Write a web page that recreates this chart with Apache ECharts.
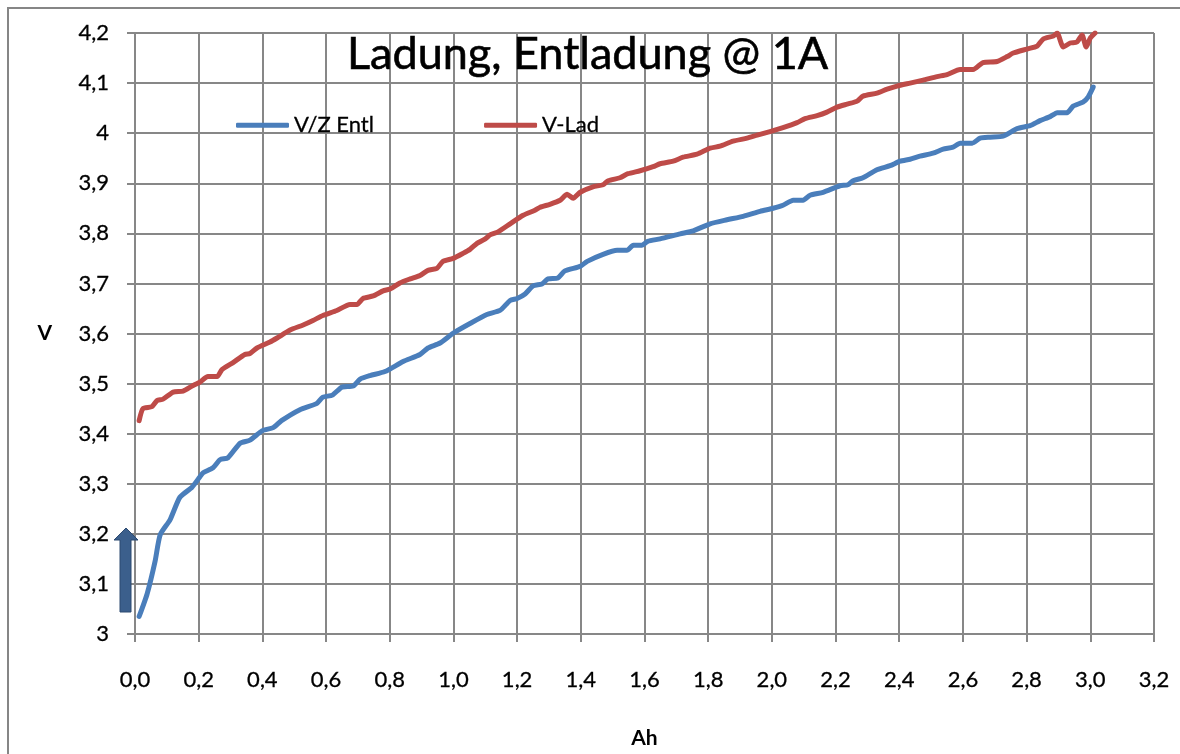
<!DOCTYPE html>
<html><head><meta charset="utf-8">
<script src="https://cdn.jsdelivr.net/npm/echarts@6/dist/echarts.min.js"></script>
<style>html,body{margin:0;padding:0;background:#fff}#c{width:1180px;height:754px}</style>
</head><body><div id="c"></div>
<script>
const entlAh = [0.013,0.038,0.063,0.079,0.11,0.141,0.179,0.204,0.214,0.245,0.267,0.292,0.33,0.361,0.40,0.434,0.46,0.518,0.57,0.59,0.62,0.65,0.685,0.707,0.738,0.785,0.842,0.895,0.92,0.958,1.0,1.052,1.105,1.146,1.178,1.2,1.225,1.25,1.278,1.297,1.328,1.35,1.398,1.42,1.47,1.514,1.545,1.565,1.592,1.61,1.649,1.712,1.753,1.806,1.859,1.91,1.963,2.004,2.035,2.067,2.098,2.12,2.161,2.214,2.239,2.255,2.286,2.33,2.371,2.403,2.434,2.465,2.506,2.538,2.569,2.591,2.629,2.654,2.685,2.726,2.77,2.811,2.842,2.874,2.896,2.927,2.946,2.977,2.993,3.009];
const entlV = [3.035,3.080,3.145,3.198,3.228,3.273,3.293,3.314,3.322,3.332,3.348,3.352,3.381,3.387,3.406,3.412,3.426,3.448,3.46,3.473,3.477,3.493,3.495,3.509,3.516,3.524,3.544,3.558,3.571,3.581,3.601,3.62,3.638,3.646,3.666,3.67,3.679,3.695,3.699,3.709,3.711,3.725,3.734,3.744,3.758,3.766,3.766,3.776,3.776,3.784,3.789,3.799,3.805,3.819,3.827,3.834,3.844,3.85,3.856,3.866,3.866,3.876,3.882,3.895,3.897,3.905,3.911,3.927,3.935,3.944,3.948,3.954,3.96,3.968,3.972,3.98,3.98,3.99,3.992,3.994,4.009,4.015,4.025,4.033,4.041,4.041,4.054,4.062,4.072,4.092];
const ladAh = [0.013,0.025,0.053,0.069,0.088,0.12,0.151,0.179,0.204,0.229,0.258,0.273,0.308,0.345,0.361,0.383,0.424,0.446,0.487,0.528,0.559,0.59,0.634,0.675,0.697,0.716,0.748,0.779,0.801,0.832,0.864,0.895,0.92,0.948,0.967,0.999,1.03,1.052,1.074,1.1,1.115,1.14,1.178,1.219,1.256,1.272,1.303,1.335,1.357,1.376,1.398,1.438,1.47,1.486,1.523,1.548,1.586,1.627,1.649,1.69,1.721,1.765,1.806,1.837,1.878,1.922,1.954,1.994,2.035,2.079,2.104,2.142,2.173,2.205,2.236,2.268,2.286,2.33,2.362,2.393,2.434,2.475,2.519,2.55,2.591,2.632,2.663,2.707,2.739,2.758,2.801,2.833,2.852,2.884,2.896,2.915,2.937,2.958,2.974,2.987,3.0,3.015];
const ladV = [3.426,3.45,3.454,3.466,3.469,3.483,3.485,3.495,3.503,3.514,3.514,3.528,3.542,3.558,3.56,3.571,3.583,3.591,3.607,3.617,3.626,3.636,3.646,3.658,3.658,3.67,3.675,3.685,3.689,3.701,3.709,3.716,3.726,3.73,3.744,3.75,3.76,3.768,3.78,3.789,3.797,3.803,3.819,3.836,3.846,3.852,3.858,3.866,3.878,3.87,3.882,3.893,3.897,3.905,3.911,3.919,3.925,3.933,3.939,3.944,3.952,3.958,3.97,3.974,3.984,3.99,3.996,4.003,4.011,4.021,4.029,4.035,4.042,4.052,4.058,4.064,4.074,4.08,4.088,4.094,4.1,4.106,4.113,4.117,4.127,4.127,4.141,4.143,4.153,4.16,4.168,4.174,4.188,4.194,4.2,4.172,4.18,4.182,4.196,4.172,4.19,4.2];
const xTickLabels = ['0,0','0,2','0,4','0,6','0,8','1,0','1,2','1,4','1,6','1,8','2,0','2,2','2,4','2,6','2,8','3,0','3,2'];
const yTickLabels = ['3','3,1','3,2','3,3','3,4','3,5','3,6','3,7','3,8','3,9','4','4,1','4,2'];
const seriesNames = ['V/Z Entl','V-Lad'];
const titleText = 'Ladung, Entladung @ 1A';

const FONT = 'Lato';
const GRID = '#878787';
const chart = echarts.init(document.getElementById('c'), null, {renderer:'canvas'});
chart.setOption({
  animation:false,
  backgroundColor:'#fff',
  title:{text:titleText,left:342,top:27,textStyle:{fontFamily:FONT,fontSize:45,fontWeight:'normal',color:'#000',textBorderColor:'#000',textBorderWidth:0.6}},
  legend:{data:seriesNames,left:236,top:114,itemWidth:53,itemHeight:5,itemGap:110,padding:0,icon:'roundRect',
    textStyle:{fontFamily:FONT,fontSize:22,color:'#000',textBorderColor:'#000',textBorderWidth:0.3}},
  grid:{left:135,right:26,top:33,bottom:110,containLabel:false},
  xAxis:{type:'value',min:0,max:3.2,interval:0.2,name:'Ah',nameLocation:'middle',nameGap:94,
    nameTextStyle:{fontFamily:FONT,fontSize:21,fontWeight:'bold',color:'#000'},
    axisLine:{show:true,lineStyle:{color:GRID,width:2}},
    axisTick:{show:true,length:8,lineStyle:{color:GRID,width:2}},
    axisLabel:{margin:35,fontFamily:FONT,fontSize:22,color:'#000',textBorderColor:'#000',textBorderWidth:0.3,formatter:(v,i)=>xTickLabels[i]},
    splitLine:{show:true,lineStyle:{color:GRID,width:2}}},
  yAxis:{type:'value',min:3,max:4.2,interval:0.1,name:'V',nameLocation:'middle',nameRotate:0,nameGap:83,
    nameTextStyle:{fontFamily:FONT,fontSize:21,fontWeight:'bold',color:'#000'},
    axisLine:{show:true,lineStyle:{color:GRID,width:2}},
    axisTick:{show:true,length:8,inside:false,lineStyle:{color:GRID,width:2}},
    axisLabel:{margin:26,fontFamily:FONT,fontSize:22,color:'#000',textBorderColor:'#000',textBorderWidth:0.3,formatter:(v,i)=>yTickLabels[i]},
    splitLine:{show:true,lineStyle:{color:GRID,width:2}}},
  series:[
    {name:seriesNames[0],type:'line',symbol:'none',smooth:0.2,data:entlAh.map((x,i)=>[x,entlV[i]]),
      lineStyle:{color:'#4a7ebb',width:5,cap:'round',join:'round'},itemStyle:{color:'#4a7ebb'}},
    {name:seriesNames[1],type:'line',symbol:'none',smooth:0.2,data:ladAh.map((x,i)=>[x,ladV[i]]),
      lineStyle:{color:'#be4b48',width:5,cap:'round',join:'round'},itemStyle:{color:'#be4b48'}}
  ],
  graphic:[
    {type:'rect',shape:{x:8,y:8,width:1200,height:800},style:{fill:'none',stroke:'#868686',lineWidth:2},silent:true},
    {type:'polygon',shape:{points:[[120,612],[120,540],[114,540],[126,528],[138,540],[131,540],[131,612]]},
      style:{fill:'#3b5f8c',stroke:'#2c4a70',lineWidth:1},z:10}
  ]
});
</script></body></html>
